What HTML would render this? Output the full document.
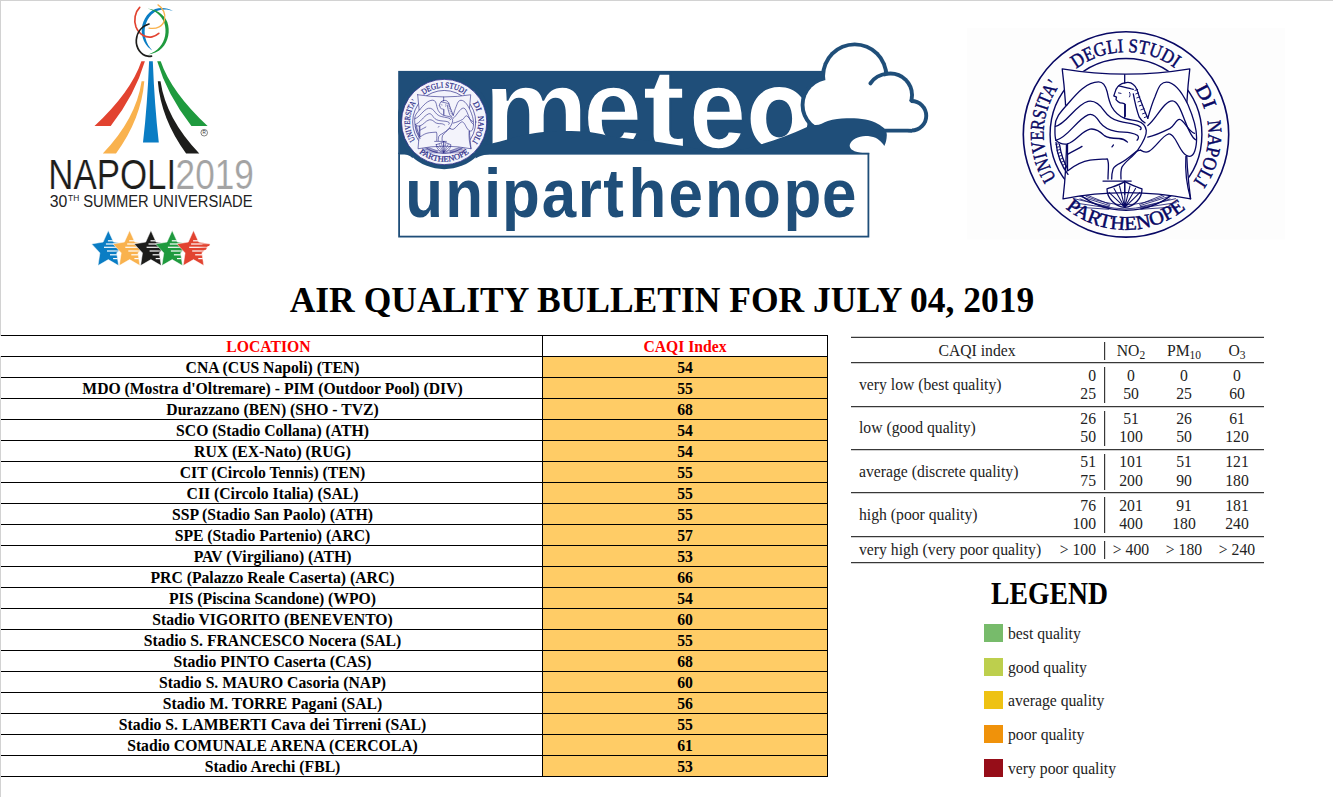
<!DOCTYPE html>
<html>
<head>
<meta charset="utf-8">
<title>Air Quality Bulletin</title>
<style>
html,body{margin:0;padding:0;background:#fff;}
body{width:1333px;height:797px;position:relative;overflow:hidden;font-family:"Liberation Serif",serif;color:#000;}
.abs{position:absolute;}
#bt{position:absolute;left:0;top:0;width:1333px;height:1px;background:#d2d2d2;}
#bl{position:absolute;left:0;top:0;width:1px;height:797px;background:#d2d2d2;}
#title{position:absolute;left:0;top:280px;width:1324px;text-align:center;font-weight:bold;font-size:35.5px;line-height:40px;white-space:nowrap;}
#tbl{position:absolute;left:1px;top:335px;width:827px;height:442px;}
.row{position:absolute;left:0;width:827px;height:21px;border-top:1px solid #000;box-sizing:border-box;}
.row .c1{position:absolute;left:1px;top:0;width:541px;height:20px;text-align:center;font-weight:bold;font-size:15.7px;line-height:21px;white-space:nowrap;}
.row .c2{position:absolute;left:541px;top:0;width:286px;height:20px;box-sizing:border-box;border-left:1px solid #000;border-right:1px solid #000;text-align:center;font-weight:bold;font-size:15.7px;line-height:21px;background:#ffcc66;}
.row.h .c1,.row.h .c2{color:#f00;background:#fff;}
#tb{position:absolute;left:0;top:441px;width:827px;height:1px;background:#000;}
/* right table */
.hl{position:absolute;left:851px;width:413px;height:1px;background:#383838;box-shadow:0 1px 0 #cfcfcf;}
.hl.u{box-shadow:0 -1px 0 #cfcfcf;}
.vl{position:absolute;left:1104px;width:1px;background:#383838;box-shadow:1px 0 0 #d8d8d8;}
.rt{position:absolute;margin-top:1px;font-size:15.7px;line-height:18px;color:#222;white-space:nowrap;}
.rt sub{font-size:11.5px;vertical-align:baseline;position:relative;top:3px;}
.cc{text-align:center;width:120px;margin-left:-30px;}
.cr{text-align:right;width:60px;}
#legend{position:absolute;left:991px;top:577px;font-weight:bold;font-size:31px;line-height:34px;transform-origin:0 0;transform:scaleX(0.893);}
.sq{position:absolute;left:984px;width:19px;height:18px;}
.lt{position:absolute;margin-top:1px;left:1008px;font-size:15.7px;line-height:18px;color:#222;white-space:nowrap;}
</style>
</head>
<body>
<div id="bt"></div><div id="bl"></div>

<!-- LOGOS -->
<svg id="logos" class="abs" style="left:0;top:0" width="1333" height="280" viewBox="0 0 1333 280">
<g id="napoli">
<path d="M141.4 61.3 L144.9 61.3 Q135 95 110.7 126.1 L94.5 126.1 Q131 92 141.4 61.3Z" fill="#e24330"/>
<path d="M160.7 61.3 L157.2 61.3 Q167.1 95 191.4 126.1 L207.6 126.1 Q171.1 92 160.7 61.3Z" fill="#1f9a3e"/>
<path d="M149.1 61.3 L152.8 61.3 Q154.5 105 158.8 142.6 L143 142.6 Q147.4 105 149.1 61.3Z" fill="#0a7dc4"/>
<path d="M141.6 81.3 L144.3 81.3 Q141.2 119 116 153.5 L102.8 153.5 Q136 119 141.6 81.3Z" fill="#f9b24e"/>
<path d="M160.5 81.3 L157.8 81.3 Q160.9 119 186.1 153.5 L199.3 153.5 Q166.1 119 160.5 81.3Z" fill="#1d1d1b"/>
<g fill="none" stroke-linecap="round">
<path d="M173.2 11.2 C166 6.8 156 6.6 149.6 12.4 C142 19.5 140.2 30 143 38.5 C145 44.5 148.5 48 152.2 50.4 C149.2 47 146.8 43.5 145.4 38 C143.4 30 145.2 21 151.6 14.5 C157 9.2 166 8.4 173.2 11.2Z" fill="#0a7dc4" stroke="none"/>
<path d="M147.2 8.4 C155 9 164 13.5 167.3 22 C170.4 31 168.4 41.5 162 48 C158 52 153 54 148.4 54.4 C153 52.8 156.6 50.5 159.7 47 C165.4 40.8 166.9 31 164.3 23 C161.6 15 154.5 10.2 147.2 8.4Z" fill="#1f9a3e" stroke="none"/>
<path d="M139.7 7.3 C135 12 133.5 20 136 27 C139 34.5 146 38 152 36.8 C155 36.2 157 35 158.8 33.4" stroke="#e24330" stroke-width="1.7"/>
<path d="M158 4.9 C163 8 166 14 164.5 20 C163 26 157 29.5 149 28.1" stroke="#f9b24e" stroke-width="1.3"/>
<path d="M149 24 C142 26 137 32 136.3 40 C135.8 48 141 55 147.8 56.2 C149 56.4 150.5 56.4 151.5 56.2" stroke="#1d1d1b" stroke-width="1.7"/>
</g>
<circle cx="204.2" cy="132.7" r="3.3" fill="none" stroke="#333" stroke-width="0.6"/>
<text x="204.2" y="134.4" font-family="Liberation Sans, sans-serif" font-size="4.6" text-anchor="middle" fill="#333">R</text>
<text x="48.2" y="189.2" font-family="Liberation Sans, sans-serif" font-size="43" fill="#1d1d1b" textLength="128" lengthAdjust="spacingAndGlyphs" stroke="#fff" stroke-width="0.2">NAPOLI</text>
<text x="175.6" y="189.2" font-family="Liberation Sans, sans-serif" font-size="43" fill="#a3a3a3" textLength="78.2" lengthAdjust="spacingAndGlyphs" stroke="#fff" stroke-width="0.2">2019</text>
<text x="49.8" y="206.6" font-family="Liberation Sans, sans-serif" font-size="16.8" fill="#222" textLength="17.6" lengthAdjust="spacingAndGlyphs">30</text>
<text x="68" y="201.3" font-family="Liberation Sans, sans-serif" font-size="8.8" fill="#222" textLength="11.2" lengthAdjust="spacingAndGlyphs">TH</text>
<text x="83.2" y="206.6" font-family="Liberation Sans, sans-serif" font-size="16.8" fill="#222" textLength="169.4" lengthAdjust="spacingAndGlyphs">SUMMER UNIVERSIADE</text>
<defs>
<linearGradient id="sg" x1="0" x2="1" y1="0" y2="0"><stop offset="0" stop-color="#fff"/><stop offset="0.4" stop-color="#fff" stop-opacity="0.95"/><stop offset="1" stop-color="#fff" stop-opacity="0.25"/></linearGradient>
<clipPath id="sc0"><polygon points="108.3,230.5 113.5,242.1 125.0,243.9 116.7,252.9 118.6,265.6 108.3,259.6 98.0,265.6 99.9,252.9 91.6,243.9 103.1,242.1"/></clipPath>
<clipPath id="sc1"><polygon points="129.6,230.5 134.8,242.1 146.3,243.9 138.0,252.9 139.9,265.6 129.6,259.6 119.3,265.6 121.2,252.9 112.9,243.9 124.4,242.1"/></clipPath>
<clipPath id="sc2"><polygon points="150.9,230.5 156.1,242.1 167.6,243.9 159.3,252.9 161.2,265.6 150.9,259.6 140.6,265.6 142.5,252.9 134.2,243.9 145.7,242.1"/></clipPath>
<clipPath id="sc3"><polygon points="172.2,230.5 177.4,242.1 188.9,243.9 180.6,252.9 182.5,265.6 172.2,259.6 161.9,265.6 163.8,252.9 155.5,243.9 167.0,242.1"/></clipPath>
<clipPath id="sc4"><polygon points="193.5,230.5 198.7,242.1 210.2,243.9 201.9,252.9 203.8,265.6 193.5,259.6 183.2,265.6 185.1,252.9 176.8,243.9 188.3,242.1"/></clipPath>
</defs>
<polygon points="108.3,230.5 113.5,242.1 125.0,243.9 116.7,252.9 118.6,265.6 108.3,259.6 98.0,265.6 99.9,252.9 91.6,243.9 103.1,242.1" fill="#0a7dc4" stroke="#fff" stroke-width="0.5"/>
<rect x="107.9" y="240.2" width="18.4" height="1.2" fill="url(#sg)" clip-path="url(#sc0)"/>
<rect x="105.9" y="243.4" width="20.4" height="1.2" fill="url(#sg)" clip-path="url(#sc0)"/>
<rect x="104.0" y="246.7" width="22.3" height="1.2" fill="url(#sg)" clip-path="url(#sc0)"/>
<rect x="107.0" y="250.4" width="19.3" height="1.2" fill="url(#sg)" clip-path="url(#sc0)"/>
<rect x="110.0" y="254.2" width="16.3" height="1.2" fill="url(#sg)" clip-path="url(#sc0)"/>
<rect x="113.1" y="258.0" width="13.2" height="1.2" fill="url(#sg)" clip-path="url(#sc0)"/>
<polygon points="129.6,230.5 134.8,242.1 146.3,243.9 138.0,252.9 139.9,265.6 129.6,259.6 119.3,265.6 121.2,252.9 112.9,243.9 124.4,242.1" fill="#f9b24e" stroke="#fff" stroke-width="0.5"/>
<rect x="129.2" y="240.2" width="18.4" height="1.2" fill="url(#sg)" clip-path="url(#sc1)"/>
<rect x="127.2" y="243.4" width="20.4" height="1.2" fill="url(#sg)" clip-path="url(#sc1)"/>
<rect x="125.3" y="246.7" width="22.3" height="1.2" fill="url(#sg)" clip-path="url(#sc1)"/>
<rect x="128.3" y="250.4" width="19.3" height="1.2" fill="url(#sg)" clip-path="url(#sc1)"/>
<rect x="131.3" y="254.2" width="16.3" height="1.2" fill="url(#sg)" clip-path="url(#sc1)"/>
<rect x="134.4" y="258.0" width="13.2" height="1.2" fill="url(#sg)" clip-path="url(#sc1)"/>
<polygon points="150.9,230.5 156.1,242.1 167.6,243.9 159.3,252.9 161.2,265.6 150.9,259.6 140.6,265.6 142.5,252.9 134.2,243.9 145.7,242.1" fill="#1d1d1b" stroke="#fff" stroke-width="0.5"/>
<rect x="150.5" y="240.2" width="18.4" height="1.2" fill="url(#sg)" clip-path="url(#sc2)"/>
<rect x="148.5" y="243.4" width="20.4" height="1.2" fill="url(#sg)" clip-path="url(#sc2)"/>
<rect x="146.6" y="246.7" width="22.3" height="1.2" fill="url(#sg)" clip-path="url(#sc2)"/>
<rect x="149.6" y="250.4" width="19.3" height="1.2" fill="url(#sg)" clip-path="url(#sc2)"/>
<rect x="152.6" y="254.2" width="16.3" height="1.2" fill="url(#sg)" clip-path="url(#sc2)"/>
<rect x="155.7" y="258.0" width="13.2" height="1.2" fill="url(#sg)" clip-path="url(#sc2)"/>
<polygon points="172.2,230.5 177.4,242.1 188.9,243.9 180.6,252.9 182.5,265.6 172.2,259.6 161.9,265.6 163.8,252.9 155.5,243.9 167.0,242.1" fill="#1f9a3e" stroke="#fff" stroke-width="0.5"/>
<rect x="171.8" y="240.2" width="18.4" height="1.2" fill="url(#sg)" clip-path="url(#sc3)"/>
<rect x="169.8" y="243.4" width="20.4" height="1.2" fill="url(#sg)" clip-path="url(#sc3)"/>
<rect x="167.9" y="246.7" width="22.3" height="1.2" fill="url(#sg)" clip-path="url(#sc3)"/>
<rect x="170.9" y="250.4" width="19.3" height="1.2" fill="url(#sg)" clip-path="url(#sc3)"/>
<rect x="173.9" y="254.2" width="16.3" height="1.2" fill="url(#sg)" clip-path="url(#sc3)"/>
<rect x="177.0" y="258.0" width="13.2" height="1.2" fill="url(#sg)" clip-path="url(#sc3)"/>
<polygon points="193.5,230.5 198.7,242.1 210.2,243.9 201.9,252.9 203.8,265.6 193.5,259.6 183.2,265.6 185.1,252.9 176.8,243.9 188.3,242.1" fill="#e24330" stroke="#fff" stroke-width="0.5"/>
<rect x="193.1" y="240.2" width="18.4" height="1.2" fill="url(#sg)" clip-path="url(#sc4)"/>
<rect x="191.1" y="243.4" width="20.4" height="1.2" fill="url(#sg)" clip-path="url(#sc4)"/>
<rect x="189.2" y="246.7" width="22.3" height="1.2" fill="url(#sg)" clip-path="url(#sc4)"/>
<rect x="192.2" y="250.4" width="19.3" height="1.2" fill="url(#sg)" clip-path="url(#sc4)"/>
<rect x="195.2" y="254.2" width="16.3" height="1.2" fill="url(#sg)" clip-path="url(#sc4)"/>
<rect x="198.3" y="258.0" width="13.2" height="1.2" fill="url(#sg)" clip-path="url(#sc4)"/>
<path d="M202.5 244.3 L210.1 244.6 L209.0 245.9 L202.5 245.9Z M201.5 247.9 L206.7 248 L206.0 249.7 L201.5 249.7Z" fill="#e24330"/>
</g>

<g id="meteo">
<defs><clipPath id="mclip"><rect x="398.2" y="60" width="200" height="130"/></clipPath></defs>
<rect x="399.1" y="153.6" width="469.3" height="83" fill="#fff" stroke="#1f4e79" stroke-width="1.8"/>
<rect x="398.2" y="70.9" width="450.8" height="83" fill="#1f4e79"/>
<g clip-path="url(#mclip)"><circle cx="444.2" cy="122" r="47.2" fill="#1f4e79"/>
<path d="M475.5 158.6 C480 155.2 487 153.9 496 153.7 L496 152 L476 152Z M401 153.7 C406 153.9 409.5 155 412.8 158.2 L412.8 152 L401 152Z" fill="#1f4e79"/></g>
<text transform="translate(483.62 148.0) scale(1.035 1)" font-family="Liberation Sans, sans-serif" font-weight="bold" font-size="114" fill="#fff" stroke="#1f4e79" stroke-width="1.6">m</text>
<text transform="translate(583.14 148.0) scale(0.925 1)" font-family="Liberation Sans, sans-serif" font-weight="bold" font-size="114" fill="#fff" stroke="#1f4e79" stroke-width="1.6">e</text>
<text transform="translate(642.41 148.0) scale(1.13 1)" font-family="Liberation Sans, sans-serif" font-weight="bold" font-size="114" fill="#fff" stroke="#1f4e79" stroke-width="1.6">t</text>
<text transform="translate(689.12 148.0) scale(0.9 1)" font-family="Liberation Sans, sans-serif" font-weight="bold" font-size="114" fill="#fff" stroke="#1f4e79" stroke-width="1.6">e</text>
<path d="M750.60 118.55 C750.60 99.68 762.04 87.10 779.20 87.10 C796.36 87.10 807.80 99.68 807.80 118.55 C807.80 137.42 796.36 150.00 779.20 150.00 C762.04 150.00 750.60 137.42 750.60 118.55Z M766.20 118.60 C766.20 106.94 771.12 99.80 779.15 99.80 C787.18 99.80 792.10 106.94 792.10 118.60 C792.10 130.26 787.18 137.40 779.15 137.40 C771.12 137.40 766.20 130.26 766.20 118.60Z" fill="#fff" fill-rule="evenodd"/>
<circle cx="854.7" cy="76" r="33.6" fill="#1f4e79"/>
<circle cx="890.5" cy="95" r="23.5" fill="#1f4e79"/>
<circle cx="911.5" cy="115.8" r="16.7" fill="#1f4e79"/>
<circle cx="829.6" cy="104.9" r="29" fill="#1f4e79"/>
<rect x="830" y="100" width="82" height="32.5" fill="#1f4e79"/>
<circle cx="854.7" cy="76" r="29.700000000000003" fill="#fff"/>
<circle cx="890.5" cy="95" r="19.6" fill="#fff"/>
<circle cx="911.5" cy="115.8" r="12.799999999999999" fill="#fff"/>
<circle cx="829.6" cy="104.9" r="25.1" fill="#fff"/>
<path d="M826 88 L850 70 L890 80 L912 104 L912 128.7 L826 128.7Z" fill="#fff"/>
<path d="M870.4 83.4 C873.5 78.5 880 74.5 887.5 73.4" fill="none" stroke="#1f4e79" stroke-width="3.9" stroke-linecap="round"/>
<path d="M470 154.2 L470 148.5 C482 146.5 502 141 518.3 136.6 C534 132.3 548 131 564.2 131 C574 131 582 131.4 589.2 132 C596 132.8 601 134 606 135.2 C616 137.4 628 138.6 637.6 139.4 C644 140 650 140.8 654.4 141.5 C664 143 673 144.3 681.7 145.7 C690 147.2 698 149.5 710 150.5 C728 152 744 150.5 759.1 144.8 C775 140.5 791 134.5 807.1 127.1 C810 124.4 812.5 124.6 814.7 125 C819 125.6 823 122.5 827.8 120.9 C834 119 840 118.5 846.6 118.3 C853 118.1 859.5 118.4 865.5 119.6 C870 120.6 874.5 122 878 124 C880.5 125.4 882.6 126.8 884.3 128.6 C886.2 130.6 886.9 133 886.8 135.3 C886.7 139.5 885.8 143.2 884.3 146 C883.6 144.8 882.8 143.8 881.8 142.8 C880 140.8 878 139 875.5 137.8 C872.5 136.4 869 135.9 865.5 135.9 C862 135.9 858.4 136.8 855.4 138.4 C852.6 139.9 850.4 142 849.8 144.7 C849.3 147 850.6 149 852.9 150.3 C855 151.6 857.6 152.4 860.5 152.8 C863 153.1 866 153.2 869.3 153.2 L869.3 154.2Z" fill="#1f4e79"/>
<text transform="scale(0.91 1)" x="445.37 489.33 531.85 551.63 595.34 634.82 662.95 690.54 734.55 774.71 816.42 861.08 903.23" y="217" font-family="Liberation Sans, sans-serif" font-weight="bold" font-size="68" fill="#1f4e79">uniparthenope</text>
</g>
<g transform="translate(444.2 122) scale(0.4155)"><g fill="none" stroke="#2a2a88" stroke-width="1.5" stroke-linecap="round" stroke-linejoin="round">
<circle r="102.7" fill="#f3f3fb" stroke-width="1.88"/>
<circle r="75.9" stroke-width="1.65"/>
<path d="M-16.0 70.0 L-49.4 56.5 M13.6 70.0 L47.0 56.5 M-16.5 71.2 L-50.8 60.4 M14.1 71.2 L48.4 60.4 M-16.8 72.4 L-51.9 64.3 M14.4 72.4 L49.5 64.3 M-17.0 73.6 L-52.6 68.3 M14.6 73.6 L50.2 68.3 M-17.2 74.9 L-53.1 72.4 M14.8 74.9 L50.7 72.4" stroke-width="0.90"/>
<path d="M-40 62 Q-20 70 -1.2 70.5 Q18 70 38 62 M-46 64.5 Q-22 74 -1.2 74.5 Q20 74 44 64.5" stroke-width="0.90"/>
<path d="M-63.8 -65.6 Q0 -55 63.8 -65.6 Q56 0 64.6 64.4 Q0 52 -63 64.4 Q-55.5 0 -63.8 -65.6Z" fill="#f3f3fb"/>
<path d="M-59.6 -29.6 C-50 -40 -40 -52 -28 -52 C-18 -52 -16 -36 -12 -28 C-8 -20 2 -14 10 -11 L10 10 L-16 10 C-24 6 -26 -6 -34 -6 C-44 -6 -46 6 -58.5 9.5 C-62 10 -66 10 -70 6 C-71.5 2 -71 -2 -71 -8 C-71 -16 -66 -22 -59.6 -29.6Z" fill="#f3f3fb" stroke="none"/>
<path d="M25.8 -16 C28 -36 32 -52 40.4 -52 C50 -52 58 -38 62 -29.6 C67 -18 70.6 -8 70.6 3.4 C70.6 14 68 22 63.8 21.9 C56 21.7 52 8 48.2 3.4 C46 0.6 44 -0.8 42.4 -0.4 C36 1.5 30 13 22.9 17 C20 18.6 16 17.8 13.2 17.1Z" fill="#f3f3fb" stroke="none"/>
<path d="M-1.3 -59.8 V-51.5 M-1.3 46.7 V60"/>
<path d="M-58.9 -29.7 C-50 -40 -40 -52.5 -27.4 -52.5 C-21 -52.5 -19.5 -45 -18.7 -42 C-17.5 -36 -16 -31 -14.3 -27.6 C-11 -21.5 -6 -18 -1.3 -16 C3 -14.5 8 -14.2 11.7 -13.2 C16.5 -11.8 19.6 -9 20.3 -4 C20.8 1 17 8 11.7 15.7 C7 22.5 -1 27 -4.2 33 C-5.5 36.5 -5.2 41 -5 44.6"/>
<path d="M-58.9 -29.7 C-66 -22 -71 -16 -71 -8 C-71 -2 -71.5 2 -70 6" />
<path d="M-70.5 -8 C-60 -10 -50 -30 -38 -33 C-31 -34.5 -25.5 -29 -21.6 -23.3 C-17.5 -17.5 -12 -14.5 -7.1 -13.2 C-2 -11.8 3 -11.2 7.3 -10.3 C10.5 -9.6 13 -8.8 14.5 -7.4 C15.5 -6.3 15.2 -5.2 14.2 -4.8"/>
<path d="M-70 6 C-58 3 -50 -14 -38 -19.5 C-32 -22 -28 -15 -25.9 -11.7 C-22 -6.5 -16 -4 -10 -3.1 C-5 -2.4 0 -2.2 4.4 -1.6 C7.5 -1.1 10 -0.2 11.7 1.2 C13 2.6 12.4 4.6 11 5.8"/>
<path d="M-70 6 C-66 10 -62 10 -58.5 9.5 C-50 7 -45 -3 -36 -5.2 C-30 -6.5 -25 -2 -21.6 1.2 C-17.5 4 -12 4 -7.1 4.1 C-3.5 4.3 -0.5 5.8 1.5 7.7"/>
<path d="M-58.5 9.5 V36.5 C-50 30 -44 27 -36 25.8 C-30 25 -24 24.8 -18.7 24.4 C-17.6 27 -17.4 30 -17.6 34 C-17.8 38 -18 42 -18 44.6"/>
<path d="M-58.5 20 C-52 16 -47 14 -44 12"/>
<path d="M-70 8 C-69 20 -64 32 -58 40" /><path d="M-66.5 10 C-65 20 -62 28 -58.5 34"/>
<path d="M-70 10 l2.6 -.6 M-69.5 13 l2.6 -.7 M-68.9 16 l2.6 -.8 M-68.1 19 l2.6 -.9 M-67.2 22 l2.6 -1 M-66.1 25 l2.5 -1.1 M-64.9 28 l2.5 -1.2 M-63.5 31 l2.4 -1.3 M-62 34 l2.3 -1.4" stroke-width="1.05"/>
<path d="M21.8 -16.1 C24 -24 26 -31 29 -37.7 C31 -43 32.5 -47.5 34.8 -49.8 C36.5 -51.5 38.5 -52.3 40.4 -52.3 C50 -52.3 58 -38 62 -29.6 C67 -18 70.6 -8 70.6 3.4 C70.6 14 68 22 63.8 21.9 C56 21.7 52 8 48.2 3.4 C46 0.6 44 -0.8 42.4 -0.4 C36 1.5 30 13 22.9 17 C20 18.6 17 17.4 14.5 15.7"/>
<path d="M21.8 -8.9 C30 -15 38 -33.5 46.3 -33.5 C56 -33.5 60 0 69.6 5.4"/>
<path d="M21.8 2.7 C30 1 38 -3 44 -6 C48 -8 50 -15 53.5 -15 C58 -15 62 -3 68.5 -1"/>
<path d="M59.9 22 C59 36 60.5 50 64.6 64.4"/>
<path d="M-1.3 -51.5 C-5 -51 -8 -49 -10 -45 L-12.2 -38.5 L-9.5 -37.2 L-10 -34.8 L-7.8 -32.7 C-6.5 -31.5 -5 -31.2 -3.5 -31.2 L-1.3 -30.5 V-17"/>
<path d="M-1.3 -51.5 C2 -52.5 5 -52 7.3 -50 C9.3 -48.5 10.3 -46.8 10.9 -45 C12.5 -40 14 -35 16 -30.5 C17.8 -25.5 19.8 -20.5 21.8 -16.1"/>
<path d="M-7.1 -48.6 C-3 -47.5 3 -46.5 7.3 -45 M7.3 -40.6 C8.5 -34 10.5 -25 13.1 -17.5 C14.8 -14.5 17 -12.5 19 -11.5"/>
<path d="M-0.5 -30 V-18 M-7.5 -41.5 l2.5 .5 M3.5 -42 c.8 1.5 .8 3 0 4.5" stroke-width="1.05"/>
<path d="M9 -44 l2.6 -.9 M9.8 -40.5 l2.8 -1 M10.8 -36.5 l3 -1 M12 -32.5 l3 -1.1 M13.3 -28.5 l3.1 -1.1 M14.8 -24.5 l3.2 -1.2 M16.5 -20.5 l3.2 -1.2 M18.3 -16.8 l3 -1.2" stroke-width="1.05"/>
<path d="M-14.3 44.6 C-14.5 40 -13.5 36.5 -12.9 34.5 C-11.5 31.5 -8.5 30 -5.7 28.7 C0 26 5.5 21 10.2 17.1 C11.8 16 13 15.8 14.5 15.7"/>
<path d="M-23 46.7 H5.2 M-14 12.5 l1.5 -2"/>
<path d="M-19 54.5 C-12 52 -6 50.5 -1.2 47 C4 50.5 10 52 16 54.5 C16 64 8 72.5 -1.2 73 C-10.5 72.5 -19 64 -19 54.5Z"/>
<path d="M-1.2 47 V73 M-1.2 73 L-17 58 M-1.2 73 L-12 54 M-1.2 73 L-6.5 51.5 M-1.2 73 L14 58 M-1.2 73 L9.5 54 M-1.2 73 L4 51.5" stroke-width="1.20"/>
</g>
<defs>
<path id="Ta" d="M-69.57 43.98 A82.3 82.3 0 0 1 -66.58 -48.37"/>
<path id="Tb" d="M-49.87 -65.47 A82.3 82.3 0 0 1 48.84 -66.24"/>
<path id="Tc" d="M68.39 -45.78 A82.3 82.3 0 0 1 78.49 -24.75"/>
<path id="Td" d="M81.17 -13.58 A82.3 82.3 0 0 1 67.25 47.44"/>
<path id="Te" d="M-60.55 73.72 A95.4 95.4 0 0 0 59.78 74.35"/>
</defs>
<text font-family="Liberation Serif, serif" font-size="19.6" fill="#2a2a88" stroke="#2a2a88" stroke-width="0.5" textLength="98.1" lengthAdjust="spacingAndGlyphs"><textPath href="#Ta" textLength="98.1" lengthAdjust="spacingAndGlyphs">UNIVERSITA'</textPath></text>
<text font-family="Liberation Serif, serif" font-size="19.6" fill="#2a2a88" stroke="#2a2a88" stroke-width="0.5" textLength="105.9" lengthAdjust="spacingAndGlyphs"><textPath href="#Tb" textLength="105.9" lengthAdjust="spacingAndGlyphs">DEGLI STUDI</textPath></text>
<text font-family="Liberation Serif, serif" font-size="19.6" fill="#2a2a88" stroke="#2a2a88" stroke-width="0.5" textLength="23.4" lengthAdjust="spacingAndGlyphs"><textPath href="#Tc" textLength="23.4" lengthAdjust="spacingAndGlyphs">DI</textPath></text>
<text font-family="Liberation Serif, serif" font-size="19.6" fill="#2a2a88" stroke="#2a2a88" stroke-width="0.5" textLength="64.2" lengthAdjust="spacingAndGlyphs"><textPath href="#Td" textLength="64.2" lengthAdjust="spacingAndGlyphs">NAPOLI</textPath></text>
<text font-family="Liberation Serif, serif" font-size="19.6" fill="#2a2a88" stroke="#2a2a88" stroke-width="0.5" textLength="130.2" lengthAdjust="spacingAndGlyphs"><textPath href="#Te" textLength="130.2" lengthAdjust="spacingAndGlyphs">PARTHENOPE</textPath></text></g>

<rect x="967" y="28" width="318" height="211.5" fill="#fdfdfd"/>
<g transform="translate(1126 134.4)"><g fill="none" stroke="#080864" stroke-width="1.3" stroke-linecap="round" stroke-linejoin="round">
<circle r="102.7" fill="none" stroke-width="1.62"/>
<circle r="75.9" stroke-width="1.43"/>
<path d="M-16.0 70.0 L-49.4 56.5 M13.6 70.0 L47.0 56.5 M-16.5 71.2 L-50.8 60.4 M14.1 71.2 L48.4 60.4 M-16.8 72.4 L-51.9 64.3 M14.4 72.4 L49.5 64.3 M-17.0 73.6 L-52.6 68.3 M14.6 73.6 L50.2 68.3 M-17.2 74.9 L-53.1 72.4 M14.8 74.9 L50.7 72.4" stroke-width="0.78"/>
<path d="M-40 62 Q-20 70 -1.2 70.5 Q18 70 38 62 M-46 64.5 Q-22 74 -1.2 74.5 Q20 74 44 64.5" stroke-width="0.78"/>
<path d="M-63.8 -65.6 Q0 -55 63.8 -65.6 Q56 0 64.6 64.4 Q0 52 -63 64.4 Q-55.5 0 -63.8 -65.6Z" fill="#fff"/>
<path d="M-59.6 -29.6 C-50 -40 -40 -52 -28 -52 C-18 -52 -16 -36 -12 -28 C-8 -20 2 -14 10 -11 L10 10 L-16 10 C-24 6 -26 -6 -34 -6 C-44 -6 -46 6 -58.5 9.5 C-62 10 -66 10 -70 6 C-71.5 2 -71 -2 -71 -8 C-71 -16 -66 -22 -59.6 -29.6Z" fill="#fff" stroke="none"/>
<path d="M25.8 -16 C28 -36 32 -52 40.4 -52 C50 -52 58 -38 62 -29.6 C67 -18 70.6 -8 70.6 3.4 C70.6 14 68 22 63.8 21.9 C56 21.7 52 8 48.2 3.4 C46 0.6 44 -0.8 42.4 -0.4 C36 1.5 30 13 22.9 17 C20 18.6 16 17.8 13.2 17.1Z" fill="#fff" stroke="none"/>
<path d="M-1.3 -59.8 V-51.5 M-1.3 46.7 V60"/>
<path d="M-58.9 -29.7 C-50 -40 -40 -52.5 -27.4 -52.5 C-21 -52.5 -19.5 -45 -18.7 -42 C-17.5 -36 -16 -31 -14.3 -27.6 C-11 -21.5 -6 -18 -1.3 -16 C3 -14.5 8 -14.2 11.7 -13.2 C16.5 -11.8 19.6 -9 20.3 -4 C20.8 1 17 8 11.7 15.7 C7 22.5 -1 27 -4.2 33 C-5.5 36.5 -5.2 41 -5 44.6"/>
<path d="M-58.9 -29.7 C-66 -22 -71 -16 -71 -8 C-71 -2 -71.5 2 -70 6" />
<path d="M-70.5 -8 C-60 -10 -50 -30 -38 -33 C-31 -34.5 -25.5 -29 -21.6 -23.3 C-17.5 -17.5 -12 -14.5 -7.1 -13.2 C-2 -11.8 3 -11.2 7.3 -10.3 C10.5 -9.6 13 -8.8 14.5 -7.4 C15.5 -6.3 15.2 -5.2 14.2 -4.8"/>
<path d="M-70 6 C-58 3 -50 -14 -38 -19.5 C-32 -22 -28 -15 -25.9 -11.7 C-22 -6.5 -16 -4 -10 -3.1 C-5 -2.4 0 -2.2 4.4 -1.6 C7.5 -1.1 10 -0.2 11.7 1.2 C13 2.6 12.4 4.6 11 5.8"/>
<path d="M-70 6 C-66 10 -62 10 -58.5 9.5 C-50 7 -45 -3 -36 -5.2 C-30 -6.5 -25 -2 -21.6 1.2 C-17.5 4 -12 4 -7.1 4.1 C-3.5 4.3 -0.5 5.8 1.5 7.7"/>
<path d="M-58.5 9.5 V36.5 C-50 30 -44 27 -36 25.8 C-30 25 -24 24.8 -18.7 24.4 C-17.6 27 -17.4 30 -17.6 34 C-17.8 38 -18 42 -18 44.6"/>
<path d="M-58.5 20 C-52 16 -47 14 -44 12"/>
<path d="M-70 8 C-69 20 -64 32 -58 40" /><path d="M-66.5 10 C-65 20 -62 28 -58.5 34"/>
<path d="M-70 10 l2.6 -.6 M-69.5 13 l2.6 -.7 M-68.9 16 l2.6 -.8 M-68.1 19 l2.6 -.9 M-67.2 22 l2.6 -1 M-66.1 25 l2.5 -1.1 M-64.9 28 l2.5 -1.2 M-63.5 31 l2.4 -1.3 M-62 34 l2.3 -1.4" stroke-width="0.91"/>
<path d="M21.8 -16.1 C24 -24 26 -31 29 -37.7 C31 -43 32.5 -47.5 34.8 -49.8 C36.5 -51.5 38.5 -52.3 40.4 -52.3 C50 -52.3 58 -38 62 -29.6 C67 -18 70.6 -8 70.6 3.4 C70.6 14 68 22 63.8 21.9 C56 21.7 52 8 48.2 3.4 C46 0.6 44 -0.8 42.4 -0.4 C36 1.5 30 13 22.9 17 C20 18.6 17 17.4 14.5 15.7"/>
<path d="M21.8 -8.9 C30 -15 38 -33.5 46.3 -33.5 C56 -33.5 60 0 69.6 5.4"/>
<path d="M21.8 2.7 C30 1 38 -3 44 -6 C48 -8 50 -15 53.5 -15 C58 -15 62 -3 68.5 -1"/>
<path d="M59.9 22 C59 36 60.5 50 64.6 64.4"/>
<path d="M-1.3 -51.5 C-5 -51 -8 -49 -10 -45 L-12.2 -38.5 L-9.5 -37.2 L-10 -34.8 L-7.8 -32.7 C-6.5 -31.5 -5 -31.2 -3.5 -31.2 L-1.3 -30.5 V-17"/>
<path d="M-1.3 -51.5 C2 -52.5 5 -52 7.3 -50 C9.3 -48.5 10.3 -46.8 10.9 -45 C12.5 -40 14 -35 16 -30.5 C17.8 -25.5 19.8 -20.5 21.8 -16.1"/>
<path d="M-7.1 -48.6 C-3 -47.5 3 -46.5 7.3 -45 M7.3 -40.6 C8.5 -34 10.5 -25 13.1 -17.5 C14.8 -14.5 17 -12.5 19 -11.5"/>
<path d="M-0.5 -30 V-18 M-7.5 -41.5 l2.5 .5 M3.5 -42 c.8 1.5 .8 3 0 4.5" stroke-width="0.91"/>
<path d="M9 -44 l2.6 -.9 M9.8 -40.5 l2.8 -1 M10.8 -36.5 l3 -1 M12 -32.5 l3 -1.1 M13.3 -28.5 l3.1 -1.1 M14.8 -24.5 l3.2 -1.2 M16.5 -20.5 l3.2 -1.2 M18.3 -16.8 l3 -1.2" stroke-width="0.91"/>
<path d="M-14.3 44.6 C-14.5 40 -13.5 36.5 -12.9 34.5 C-11.5 31.5 -8.5 30 -5.7 28.7 C0 26 5.5 21 10.2 17.1 C11.8 16 13 15.8 14.5 15.7"/>
<path d="M-23 46.7 H5.2 M-14 12.5 l1.5 -2"/>
<path d="M-19 54.5 C-12 52 -6 50.5 -1.2 47 C4 50.5 10 52 16 54.5 C16 64 8 72.5 -1.2 73 C-10.5 72.5 -19 64 -19 54.5Z"/>
<path d="M-1.2 47 V73 M-1.2 73 L-17 58 M-1.2 73 L-12 54 M-1.2 73 L-6.5 51.5 M-1.2 73 L14 58 M-1.2 73 L9.5 54 M-1.2 73 L4 51.5" stroke-width="1.04"/>
</g>
<defs>
<path id="Sa" d="M-69.57 43.98 A82.3 82.3 0 0 1 -66.58 -48.37"/>
<path id="Sb" d="M-49.87 -65.47 A82.3 82.3 0 0 1 48.84 -66.24"/>
<path id="Sc" d="M68.39 -45.78 A82.3 82.3 0 0 1 78.49 -24.75"/>
<path id="Sd" d="M81.17 -13.58 A82.3 82.3 0 0 1 67.25 47.44"/>
<path id="Se" d="M-60.55 73.72 A95.4 95.4 0 0 0 59.78 74.35"/>
</defs>
<text font-family="Liberation Serif, serif" font-size="19.6" fill="#080864" stroke="#080864" stroke-width="0.45" textLength="98.1" lengthAdjust="spacingAndGlyphs"><textPath href="#Sa" textLength="98.1" lengthAdjust="spacingAndGlyphs">UNIVERSITA'</textPath></text>
<text font-family="Liberation Serif, serif" font-size="19.6" fill="#080864" stroke="#080864" stroke-width="0.45" textLength="105.9" lengthAdjust="spacingAndGlyphs"><textPath href="#Sb" textLength="105.9" lengthAdjust="spacingAndGlyphs">DEGLI STUDI</textPath></text>
<text font-family="Liberation Serif, serif" font-size="19.6" fill="#080864" stroke="#080864" stroke-width="0.45" textLength="23.4" lengthAdjust="spacingAndGlyphs"><textPath href="#Sc" textLength="23.4" lengthAdjust="spacingAndGlyphs">DI</textPath></text>
<text font-family="Liberation Serif, serif" font-size="19.6" fill="#080864" stroke="#080864" stroke-width="0.45" textLength="64.2" lengthAdjust="spacingAndGlyphs"><textPath href="#Sd" textLength="64.2" lengthAdjust="spacingAndGlyphs">NAPOLI</textPath></text>
<text font-family="Liberation Serif, serif" font-size="19.6" fill="#080864" stroke="#080864" stroke-width="0.45" textLength="130.2" lengthAdjust="spacingAndGlyphs"><textPath href="#Se" textLength="130.2" lengthAdjust="spacingAndGlyphs">PARTHENOPE</textPath></text></g>
</svg>

<div id="title">AIR QUALITY BULLETIN FOR JULY 04, 2019</div>

<div id="tbl">
<div class="row h" style="top:0"><div class="c1" style="left:-3px">LOCATION</div><div class="c2">CAQI Index</div></div>
<div class="row" style="top:21px"><div class="c1">CNA (CUS Napoli) (TEN)</div><div class="c2">54</div></div>
<div class="row" style="top:42px"><div class="c1">MDO (Mostra d'Oltremare) - PIM (Outdoor Pool) (DIV)</div><div class="c2">55</div></div>
<div class="row" style="top:63px"><div class="c1">Durazzano (BEN) (SHO - TVZ)</div><div class="c2">68</div></div>
<div class="row" style="top:84px"><div class="c1">SCO (Stadio Collana) (ATH)</div><div class="c2">54</div></div>
<div class="row" style="top:105px"><div class="c1">RUX (EX-Nato) (RUG)</div><div class="c2">54</div></div>
<div class="row" style="top:126px"><div class="c1">CIT (Circolo Tennis) (TEN)</div><div class="c2">55</div></div>
<div class="row" style="top:147px"><div class="c1">CII (Circolo Italia) (SAL)</div><div class="c2">55</div></div>
<div class="row" style="top:168px"><div class="c1">SSP (Stadio San Paolo) (ATH)</div><div class="c2">55</div></div>
<div class="row" style="top:189px"><div class="c1">SPE (Stadio Partenio) (ARC)</div><div class="c2">57</div></div>
<div class="row" style="top:210px"><div class="c1">PAV (Virgiliano) (ATH)</div><div class="c2">53</div></div>
<div class="row" style="top:231px"><div class="c1">PRC (Palazzo Reale Caserta) (ARC)</div><div class="c2">66</div></div>
<div class="row" style="top:252px"><div class="c1">PIS (Piscina Scandone) (WPO)</div><div class="c2">54</div></div>
<div class="row" style="top:273px"><div class="c1">Stadio VIGORITO (BENEVENTO)</div><div class="c2">60</div></div>
<div class="row" style="top:294px"><div class="c1">Stadio S. FRANCESCO Nocera (SAL)</div><div class="c2">55</div></div>
<div class="row" style="top:315px"><div class="c1">Stadio PINTO Caserta (CAS)</div><div class="c2">68</div></div>
<div class="row" style="top:336px"><div class="c1">Stadio S. MAURO Casoria (NAP)</div><div class="c2">60</div></div>
<div class="row" style="top:357px"><div class="c1">Stadio M. TORRE Pagani (SAL)</div><div class="c2">56</div></div>
<div class="row" style="top:378px"><div class="c1">Stadio S. LAMBERTI Cava dei Tirreni (SAL)</div><div class="c2">55</div></div>
<div class="row" style="top:399px"><div class="c1">Stadio COMUNALE ARENA (CERCOLA)</div><div class="c2">61</div></div>
<div class="row" style="top:420px"><div class="c1">Stadio Arechi (FBL)</div><div class="c2">53</div></div>
<div id="tb"></div>
</div>

<!-- RIGHT TABLE -->
<div id="rtable">
<div class="hl u" style="top:337px"></div>
<div class="hl" style="top:362px"></div>
<div class="hl" style="top:406px"></div>
<div class="hl" style="top:449px"></div>
<div class="hl" style="top:492px"></div>
<div class="hl" style="top:536px"></div>
<div class="hl" style="top:562px"></div>
<!--RT-->
<div class="rt cc" style="left:947px;top:341px">CAQI index</div>
<div class="rt cc" style="left:1101px;top:341px">NO<sub>2</sub></div>
<div class="rt cc" style="left:1154px;top:341px">PM<sub>10</sub></div>
<div class="rt cc" style="left:1207px;top:341px">O<sub>3</sub></div>
<div class="vl" style="top:341.5px;height:18px"></div>
<div class="rt" style="left:859px;top:374.8px">very low (best quality)</div>
<div class="rt cr" style="left:1036px;top:365.6px">0</div>
<div class="rt cc" style="left:1101px;top:365.6px">0</div>
<div class="rt cc" style="left:1154px;top:365.6px">0</div>
<div class="rt cc" style="left:1207px;top:365.6px">0</div>
<div class="rt cr" style="left:1036px;top:383.9px">25</div>
<div class="rt cc" style="left:1101px;top:383.9px">50</div>
<div class="rt cc" style="left:1154px;top:383.9px">25</div>
<div class="rt cc" style="left:1207px;top:383.9px">60</div>
<div class="vl" style="top:367.0px;height:35.5px"></div>
<div class="rt" style="left:859px;top:418.2px">low (good quality)</div>
<div class="rt cr" style="left:1036px;top:409.1px">26</div>
<div class="rt cc" style="left:1101px;top:409.1px">51</div>
<div class="rt cc" style="left:1154px;top:409.1px">26</div>
<div class="rt cc" style="left:1207px;top:409.1px">61</div>
<div class="rt cr" style="left:1036px;top:427.4px">50</div>
<div class="rt cc" style="left:1101px;top:427.4px">100</div>
<div class="rt cc" style="left:1154px;top:427.4px">50</div>
<div class="rt cc" style="left:1207px;top:427.4px">120</div>
<div class="vl" style="top:410.5px;height:35.5px"></div>
<div class="rt" style="left:859px;top:461.5px">average (discrete quality)</div>
<div class="rt cr" style="left:1036px;top:452.3px">51</div>
<div class="rt cc" style="left:1101px;top:452.3px">101</div>
<div class="rt cc" style="left:1154px;top:452.3px">51</div>
<div class="rt cc" style="left:1207px;top:452.3px">121</div>
<div class="rt cr" style="left:1036px;top:470.7px">75</div>
<div class="rt cc" style="left:1101px;top:470.7px">200</div>
<div class="rt cc" style="left:1154px;top:470.7px">90</div>
<div class="rt cc" style="left:1207px;top:470.7px">180</div>
<div class="vl" style="top:454.0px;height:35.5px"></div>
<div class="rt" style="left:859px;top:504.8px">high (poor quality)</div>
<div class="rt cr" style="left:1036px;top:495.6px">76</div>
<div class="rt cc" style="left:1101px;top:495.6px">201</div>
<div class="rt cc" style="left:1154px;top:495.6px">91</div>
<div class="rt cc" style="left:1207px;top:495.6px">181</div>
<div class="rt cr" style="left:1036px;top:514.0px">100</div>
<div class="rt cc" style="left:1101px;top:514.0px">400</div>
<div class="rt cc" style="left:1154px;top:514.0px">180</div>
<div class="rt cc" style="left:1207px;top:514.0px">240</div>
<div class="vl" style="top:497.0px;height:35.5px"></div>
<div class="rt" style="left:859px;top:540px">very high (very poor quality)</div>
<div class="rt cr" style="left:1036px;top:540px">&gt; 100</div>
<div class="rt cc" style="left:1101px;top:540px">&gt; 400</div>
<div class="rt cc" style="left:1154px;top:540px">&gt; 180</div>
<div class="rt cc" style="left:1207px;top:540px">&gt; 240</div>
<div class="vl" style="top:541px;height:18px"></div>
<!--/RT-->
</div>

<div id="legend">LEGEND</div>
<div class="sq" style="top:624px;background:#77bb6b"></div><div class="lt" style="top:624px">best quality</div>
<div class="sq" style="top:658px;background:#bdcf4d"></div><div class="lt" style="top:658px">good quality</div>
<div class="sq" style="top:691px;background:#eec213"></div><div class="lt" style="top:691px">average quality</div>
<div class="sq" style="top:725px;background:#f0920a"></div><div class="lt" style="top:725px">poor quality</div>
<div class="sq" style="top:759px;background:#960d18"></div><div class="lt" style="top:759px">very poor quality</div>

</body>
</html>
